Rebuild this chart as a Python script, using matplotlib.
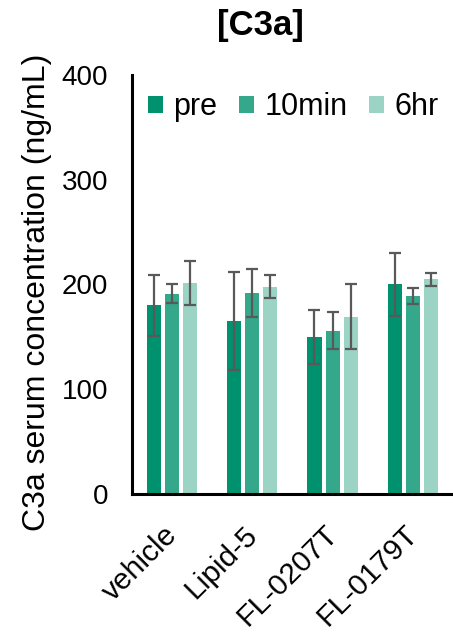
import numpy as np
import matplotlib.pyplot as plt
import matplotlib.transforms as mtransforms

plt.rcParams['font.family'] = ['Liberation Sans', 'DejaVu Sans']

groups = ['vehicle', 'Lipid-5', 'FL-0207T', 'FL-0179T']
timepoints = ['pre', '10min', '6hr']

# mean C3a (ng/mL) per group, per timepoint
pre = [180, 165, 150, 200]
min10 = [191, 192, 156, 189]
hr6 = [201, 198, 169, 205]

# error bar half-widths
pre_err = [29, 47, 26, 30]
min10_err = [9, 23, 18, 8]
hr6_err = [21, 11, 31, 6]

colors = ['#00916e', '#35a88b', '#9bd4c5']

means = [pre, min10, hr6]
errs = [pre_err, min10_err, hr6_err]

fig = plt.figure(figsize=(4.53, 6.32), dpi=100)
ax = fig.add_axes([0.291, 0.2184, 0.709, 0.663])

x = np.arange(len(groups))
width = 0.175
step = 0.225

for k in range(len(timepoints)):
	ax.bar(x + (k-1)*step, means[k], width, color=colors[k], label=timepoints[k],
		yerr=errs[k], error_kw=dict(ecolor='#595959', elinewidth=1.6, capsize=4.5, capthick=1.6))

ax.set_xlim(-0.5, 3.5)
ax.set_ylim(0, 400)
ax.set_yticks([0, 100, 200, 300, 400])
ax.set_xticks(x)
ax.set_xticklabels(groups, rotation=45, ha='right', rotation_mode='anchor', fontsize=21.5)
ax.tick_params(axis='y', length=0, pad=17, labelsize=20)
ax.tick_params(axis='x', length=0, pad=19)

# nudge the rotated labels a little to the left
offset = mtransforms.ScaledTranslation(-0.09, 0, fig.dpi_scale_trans)
for lab in ax.get_xticklabels():
	lab.set_transform(lab.get_transform() + offset)

for side in ['top', 'right']:
	ax.spines[side].set_visible(False)
for side in ['left', 'bottom']:
	ax.spines[side].set_linewidth(2.2)

ax.set_ylabel('C3a serum concentration (ng/mL)', fontsize=23)
ax.yaxis.set_label_coords(-0.25, 0.481)
fig.text(0.576, 1-35/632, '[C3a]', fontsize=25, fontweight='bold', ha='center', va='baseline')

ax.legend(loc='upper left', ncol=3, frameon=False, fontsize=22, handlelength=0.5,
	handleheight=0.5, handletextpad=0.34, columnspacing=0.7, borderpad=0, borderaxespad=0,
	bbox_to_anchor=(0.05, 0.959))

plt.savefig('out.png', dpi=100)
